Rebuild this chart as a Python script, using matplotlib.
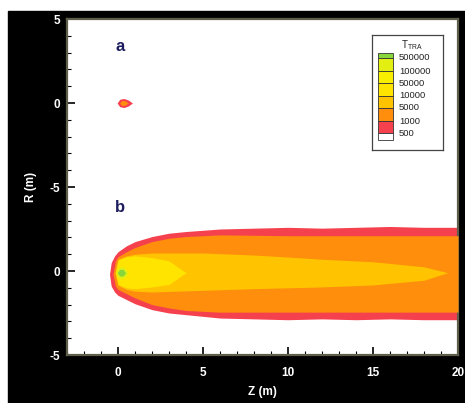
import matplotlib
matplotlib.use("Agg")
import matplotlib.pyplot as plt
from matplotlib.patches import Rectangle

plt.rcParams['font.family'] = ['Liberation Sans', 'DejaVu Sans']

# -----------------------------------------------------------------------
# Contour level values and band colours (T_TRA)
# -----------------------------------------------------------------------
levels = [500, 1000, 5000, 10000, 50000, 100000, 500000]
band_colors = ['#f5414e', '#ff8e0c', '#ffc300', '#ffe400',
               '#f8ee00', '#e2ef10', '#86d63c']

# panel b sits 10 m below panel a on a shared axis
offset_a = 0.0
offset_b = -10.0

# -----------------------------------------------------------------------
# Panel b: iso-contour boundaries (Z, upper R, lower R)
# -----------------------------------------------------------------------
b_z_500 = [-0.5, -0.4, -0.2, 0, 0.5, 1, 2, 3, 4, 6, 8, 10, 12, 14, 16, 18, 20]
b_up_500 = [-0.2, 0.5, 0.9, 1.15, 1.5, 1.75, 2.05, 2.25, 2.35, 2.5, 2.55, 2.6, 2.55, 2.6, 2.65, 2.6, 2.6]
b_lo_500 = [-0.2, -0.9, -1.25, -1.45, -1.7, -1.95, -2.3, -2.5, -2.6, -2.8, -2.85, -2.9, -2.85, -2.9, -2.85, -2.9, -2.9]

b_z_1000 = [-0.3, -0.15, 0, 0.5, 1, 2, 3, 4, 6, 10, 14, 20]
b_up_1000 = [-0.2, 0.6, 0.85, 1.15, 1.4, 1.75, 1.95, 2.05, 2.15, 2.1, 2.1, 2.1]
b_lo_1000 = [-0.2, -0.9, -1.1, -1.35, -1.6, -2.0, -2.2, -2.35, -2.45, -2.45, -2.45, -2.45]

b_z_5000 = [-0.18, 0, 0.5, 1, 2, 5, 8, 10, 12, 15, 18, 19.4]
b_up_5000 = [-0.1, 0.7, 0.9, 1.0, 1.07, 1.07, 0.95, 0.83, 0.7, 0.55, 0.25, -0.1]
b_lo_5000 = [-0.1, -0.85, -1.1, -1.2, -1.25, -1.15, -1.05, -1.0, -0.95, -0.83, -0.55, -0.1]

b_z_10000 = [-0.15, 0, 0.5, 1, 2, 3, 4.0]
b_up_10000 = [-0.1, 0.65, 0.85, 0.9, 0.8, 0.6, -0.1]
b_lo_10000 = [-0.1, -0.8, -1.0, -1.05, -0.95, -0.8, -0.1]

b_z_100000 = [-0.15, 0.0, 0.2, 0.4, 0.6]
b_up_100000 = [-0.1, 0.18, 0.28, 0.18, -0.1]
b_lo_100000 = [-0.1, -0.38, -0.48, -0.38, -0.1]

b_z_500000 = [-0.05, 0.1, 0.3, 0.45]
b_up_500000 = [-0.1, 0.1, 0.1, -0.1]
b_lo_500000 = [-0.1, -0.3, -0.3, -0.1]

# -----------------------------------------------------------------------
# Panel a: small kernel near the nozzle
# -----------------------------------------------------------------------
a_z_500 = [-0.05, 0.1, 0.35, 0.6, 0.85]
a_up_500 = [0.0, 0.22, 0.27, 0.18, 0.0]
a_lo_500 = [0.0, -0.22, -0.27, -0.18, 0.0]

a_z_1000 = [0.1, 0.2, 0.4, 0.6]
a_up_1000 = [0.0, 0.14, 0.14, 0.0]
a_lo_1000 = [0.0, -0.14, -0.14, 0.0]

panel_b = [(b_z_500, b_up_500, b_lo_500, 0),
           (b_z_1000, b_up_1000, b_lo_1000, 1),
           (b_z_5000, b_up_5000, b_lo_5000, 2),
           (b_z_10000, b_up_10000, b_lo_10000, 3),
           (b_z_100000, b_up_100000, b_lo_100000, 5),
           (b_z_500000, b_up_500000, b_lo_500000, 6)]
panel_a = [(a_z_500, a_up_500, a_lo_500, 0),
           (a_z_1000, a_up_1000, a_lo_1000, 1)]

ytick_pos = [5, 0, -5, -10, -15]
ytick_labels = ['5', '0', '-5', '0', '-5']
xtick_pos = [0, 5, 10, 15, 20]

# -----------------------------------------------------------------------
# Figure
# -----------------------------------------------------------------------
fig = plt.figure(figsize=(4.65, 4.03), dpi=100, facecolor='white')
bg = Rectangle((8 / 465, 0), 1, 1 - 11 / 403, color='black',
               transform=fig.transFigure, zorder=-10)
fig.add_artist(bg)

ax = fig.add_axes([67 / 465, 1 - 355 / 403, 391 / 465, 336 / 403])
ax.set_zorder(2)
ax.set_facecolor('white')


def draw_panel(shapes, offset):
    for z, up, lo, idx in shapes:
        ax.fill_between(z, [u + offset for u in up], [l + offset for l in lo],
                        color=band_colors[idx], linewidth=0, zorder=2 + idx)


draw_panel(panel_b, offset_b)
draw_panel(panel_a, offset_a)

ax.text(0.1, 3.35, 'a', color='#1c1c5e', fontsize=12, fontweight='bold',
        ha='center', va='center')
ax.text(0.1, -6.2, 'b', color='#1c1c5e', fontsize=12, fontweight='bold',
        ha='center', va='center')

ax.set_xlim(-3, 20)
ax.set_ylim(-15, 5)
ax.set_xticks(xtick_pos)
ax.set_xticks(range(-3, 21), minor=True)
ax.set_yticks(ytick_pos)
ax.set_yticklabels(ytick_labels)
ax.set_yticks(range(-15, 6), minor=True)
ax.tick_params(which='both', direction='in', color='black', labelcolor='white',
               top=False, right=False, labelsize=8.5)
ax.tick_params(which='major', length=6, width=1.2)
ax.tick_params(which='minor', length=3, width=0.8)
ax.tick_params(axis='x', pad=9)
ax.tick_params(axis='y', pad=5)
for lab in ax.get_xticklabels() + ax.get_yticklabels():
    lab.set_fontweight('bold')

ax.set_xlabel('Z (m)', color='white', fontsize=8.5, fontweight='bold', labelpad=5)
ax.set_ylabel('R (m)', color='white', fontsize=8.5, fontweight='bold', labelpad=9)

for sp in ax.spines.values():
    sp.set_color('#5e5e4a')
    sp.set_linewidth(1.6)

# -----------------------------------------------------------------------
# Legend box
# -----------------------------------------------------------------------
lg = fig.add_axes([372 / 465, 1 - 150 / 403, 71 / 465, 115 / 403])
lg.set_zorder(3)
lg.set_xlim(0, 71)
lg.set_ylim(115, 0)
lg.set_xticks([])
lg.set_yticks([])
for sp in lg.spines.values():
    sp.set_color('#444444')
    sp.set_linewidth(0.9)

swatch_edges = [18, 23, 36, 48, 61, 73, 86, 98, 105]
swatch_colors = band_colors[::-1] + ['white']
for i, c in enumerate(swatch_colors):
    lg.add_patch(Rectangle((6, swatch_edges[i]), 15,
                           swatch_edges[i + 1] - swatch_edges[i],
                           facecolor=c, edgecolor='#333333', linewidth=0.6))

for lev, y in zip(levels[::-1], swatch_edges[1:-1]):
    lg.text(27, y, str(lev), fontsize=6.8, color='#222222', va='center', ha='left')

lg.text(40, 10, r'T$_{\mathregular{TRA}}$', fontsize=7, color='#222222',
        ha='center', va='center')

fig.savefig('out.png', dpi=100, facecolor=fig.get_facecolor())
